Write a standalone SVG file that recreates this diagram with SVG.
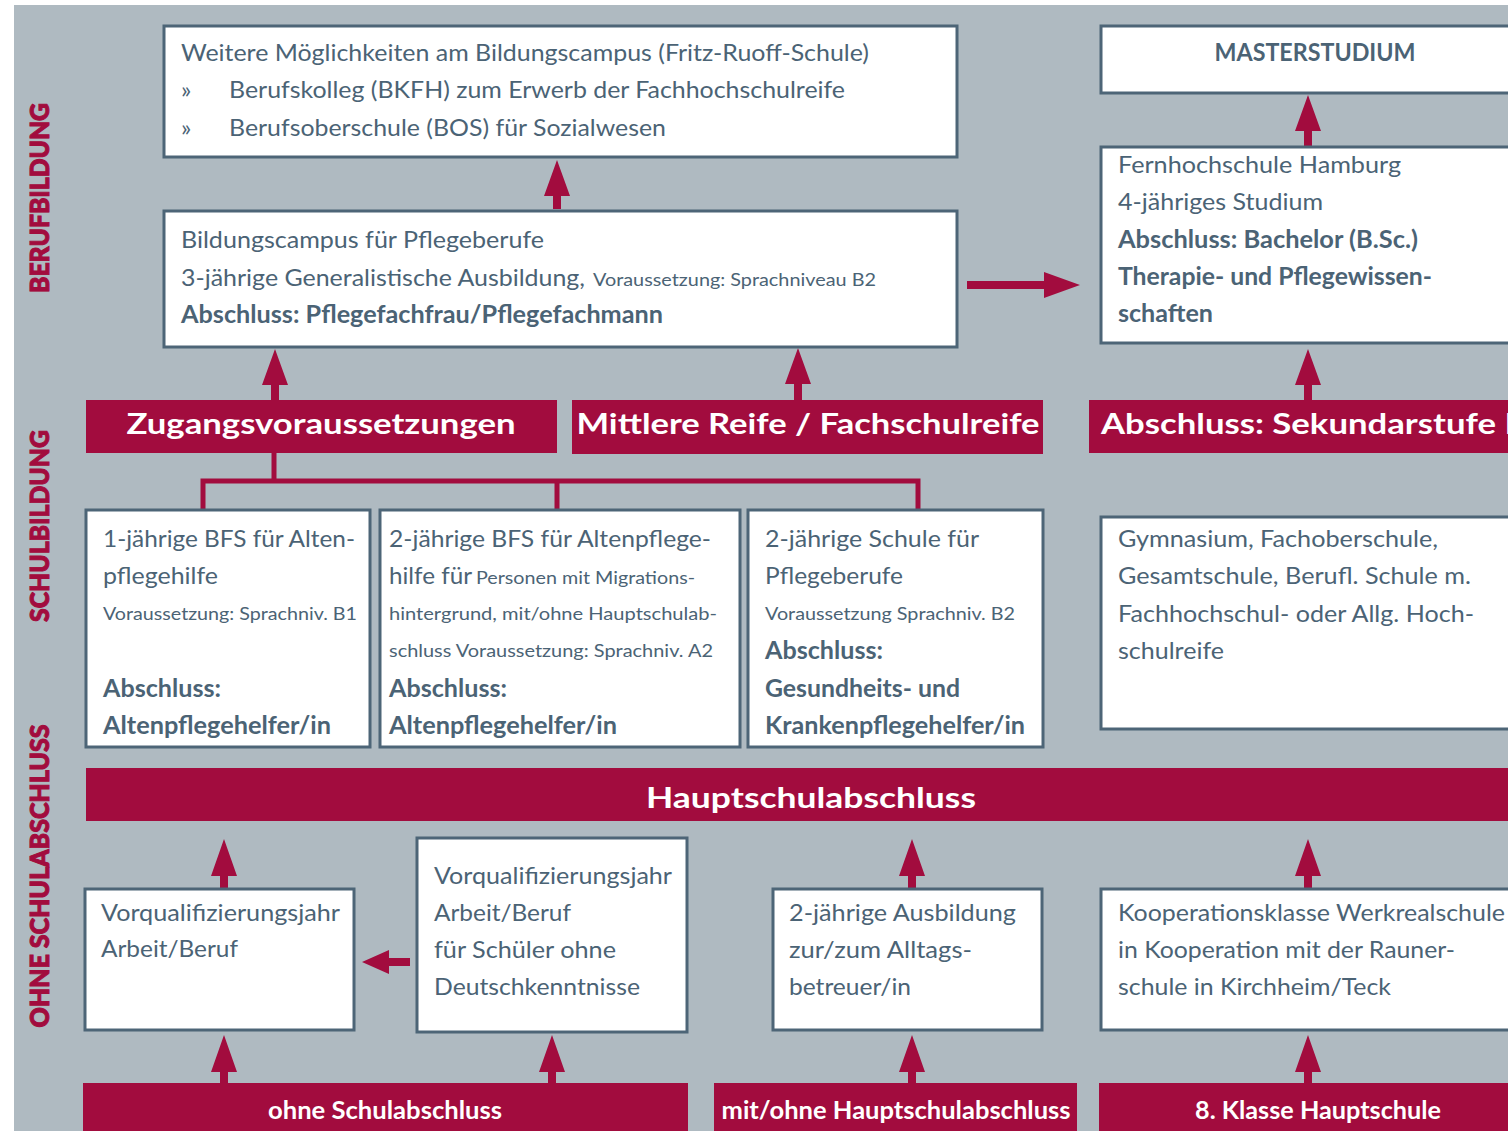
<svg xmlns="http://www.w3.org/2000/svg" width="1508" height="1131" viewBox="0 0 1508 1131">
<style>
.bg{fill:#afbac1}
.box{fill:#fff;stroke:#4d6577;stroke-width:3}
.bar{fill:#a20c3e}
.t{font-family:Lato,"Open Sans","Liberation Sans",sans-serif;font-size:24px;fill:#4b6375}
.s{font-size:18px}
.b{font-weight:700}
.w{font-family:Lato,"Open Sans","Liberation Sans",sans-serif;fill:#fff;font-weight:700}
.side{font-family:Lato,"Open Sans","Liberation Sans",sans-serif;fill:#a20c3e;stroke:#a20c3e;stroke-width:1;font-weight:900;font-size:26px}
.arr{fill:#a20c3e}
.ln{fill:none;stroke:#a20c3e;stroke-width:5}
</style>
<rect x="0" y="0" width="1508" height="1131" fill="#fff"/>
<rect class="bg" x="14" y="5" width="1494" height="1126"/>

<g id="side-labels">
<text class="side" transform="translate(49,198) rotate(-90)" text-anchor="middle" textLength="190" lengthAdjust="spacingAndGlyphs">BERUFBILDUNG</text>
<text class="side" transform="translate(49,526) rotate(-90)" text-anchor="middle" textLength="192" lengthAdjust="spacingAndGlyphs">SCHULBILDUNG</text>
<text class="side" transform="translate(49,876) rotate(-90)" text-anchor="middle" textLength="303" lengthAdjust="spacingAndGlyphs">OHNE SCHULABSCHLUSS</text>
</g>

<g id="connectors">
<path class="arr" d="M557 160 L570 196 L561 196 L561 209 L553 209 L553 196 L544 196 Z"/>
<path class="arr" d="M275 349 L288 385 L279 385 L279 400 L271 400 L271 385 L262 385 Z"/>
<path class="arr" d="M798 348 L811 384 L802 384 L802 400 L794 400 L794 384 L785 384 Z"/>
<path class="arr" d="M1308 95 L1321 131 L1312 131 L1312 146 L1304 146 L1304 131 L1295 131 Z"/>
<path class="arr" d="M1308 349 L1321 385 L1312 385 L1312 400 L1304 400 L1304 385 L1295 385 Z"/>
<path class="arr" d="M224 839 L237 876 L228 876 L228 889 L220 889 L220 876 L211 876 Z"/>
<path class="arr" d="M912 839 L925 876 L916 876 L916 889 L908 889 L908 876 L899 876 Z"/>
<path class="arr" d="M1308 839 L1321 876 L1312 876 L1312 889 L1304 889 L1304 876 L1295 876 Z"/>
<path class="arr" d="M224 1035 L237 1072 L228 1072 L228 1083 L220 1083 L220 1072 L211 1072 Z"/>
<path class="arr" d="M552 1035 L565 1072 L556 1072 L556 1083 L548 1083 L548 1072 L539 1072 Z"/>
<path class="arr" d="M912 1035 L925 1072 L916 1072 L916 1083 L908 1083 L908 1072 L899 1072 Z"/>
<path class="arr" d="M1308 1035 L1321 1072 L1312 1072 L1312 1083 L1304 1083 L1304 1072 L1295 1072 Z"/>
<path class="arr" d="M1080 285 L1044 272 L1044 281 L967 281 L967 289 L1044 289 L1044 298 Z"/>
<path class="arr" d="M362 962 L389 950 L389 958 L410 958 L410 966 L389 966 L389 974 Z"/>
<path class="ln" d="M274 453 V481 M203 510 V481 H918 V510 M557 481 V510"/>
</g>

<g id="weitere">
<rect class="box" x="164" y="26" width="793" height="131"/>
<text class="t" x="181" y="61" textLength="688" lengthAdjust="spacingAndGlyphs">Weitere Möglichkeiten am Bildungscampus (Fritz-Ruoff-Schule)</text>
<text class="t" x="181" y="98">»</text>
<text class="t" x="229" y="98" textLength="616" lengthAdjust="spacingAndGlyphs">Berufskolleg (BKFH) zum Erwerb der Fachhochschulreife</text>
<text class="t" x="181" y="136">»</text>
<text class="t" x="229" y="136" textLength="437" lengthAdjust="spacingAndGlyphs">Berufsoberschule (BOS) für Sozialwesen</text>
</g>

<g id="master">
<rect class="box" x="1101" y="26" width="420" height="67"/>
<text class="t b" x="1315" y="61" text-anchor="middle" textLength="201" lengthAdjust="spacingAndGlyphs">MASTERSTUDIUM</text>
</g>

<g id="bildungscampus">
<rect class="box" x="164" y="211" width="793" height="136"/>
<text class="t" x="181" y="248" textLength="363" lengthAdjust="spacingAndGlyphs">Bildungscampus für Pflegeberufe</text>
<text class="t" x="181" y="286" textLength="404" lengthAdjust="spacingAndGlyphs">3-jährige Generalistische Ausbildung,</text>
<text class="t s" x="593" y="286" textLength="283" lengthAdjust="spacingAndGlyphs">Voraussetzung: Sprachniveau B2</text>
<text class="t b" x="181" y="323" textLength="482" lengthAdjust="spacingAndGlyphs">Abschluss: Pflegefachfrau/Pflegefachmann</text>
</g>

<g id="fernhochschule">
<rect class="box" x="1101" y="147" width="420" height="196"/>
<text class="t" x="1118" y="173" textLength="283" lengthAdjust="spacingAndGlyphs">Fernhochschule Hamburg</text>
<text class="t" x="1118" y="210" textLength="205" lengthAdjust="spacingAndGlyphs">4-jähriges Studium</text>
<text class="t b" x="1118" y="248" textLength="300" lengthAdjust="spacingAndGlyphs">Abschluss: Bachelor (B.Sc.)</text>
<text class="t b" x="1118" y="285" textLength="314" lengthAdjust="spacingAndGlyphs">Therapie- und Pflegewissen-</text>
<text class="t b" x="1118" y="322" textLength="95" lengthAdjust="spacingAndGlyphs">schaften</text>
</g>

<g id="zugang">
<rect class="bar" x="86" y="400" width="471" height="53"/>
<text class="w" x="321" y="434" font-size="29" text-anchor="middle" textLength="389" lengthAdjust="spacingAndGlyphs">Zugangsvoraussetzungen</text>
</g>
<g id="mittlere">
<rect class="bar" x="572" y="400" width="471" height="54"/>
<text class="w" x="808" y="434" font-size="29" text-anchor="middle" textLength="463" lengthAdjust="spacingAndGlyphs">Mittlere Reife / Fachschulreife</text>
</g>
<g id="sekundar">
<rect class="bar" x="1089" y="400" width="430" height="53"/>
<text class="w" x="1101" y="434" font-size="29" textLength="424" lengthAdjust="spacingAndGlyphs">Abschluss: Sekundarstufe II</text>
</g>

<g id="bfs1">
<rect class="box" x="86" y="510" width="284" height="237"/>
<text class="t" x="103" y="547" textLength="252" lengthAdjust="spacingAndGlyphs">1-jährige BFS für Alten-</text>
<text class="t" x="103" y="584" textLength="115" lengthAdjust="spacingAndGlyphs">pflegehilfe</text>
<text class="t s" x="103" y="620" textLength="254" lengthAdjust="spacingAndGlyphs">Voraussetzung: Sprachniv. B1</text>
<text class="t b" x="103" y="697" textLength="118" lengthAdjust="spacingAndGlyphs">Abschluss:</text>
<text class="t b" x="103" y="734" textLength="228" lengthAdjust="spacingAndGlyphs">Altenpflegehelfer/in</text>
</g>

<g id="bfs2">
<rect class="box" x="380" y="510" width="360" height="237"/>
<text class="t" x="389" y="547" textLength="322" lengthAdjust="spacingAndGlyphs">2-jährige BFS für Altenpflege-</text>
<text class="t" x="389" y="584" textLength="83" lengthAdjust="spacingAndGlyphs">hilfe für</text>
<text class="t s" x="476" y="584" textLength="219" lengthAdjust="spacingAndGlyphs">Personen mit Migrations-</text>
<text class="t s" x="389" y="620" textLength="328" lengthAdjust="spacingAndGlyphs">hintergrund, mit/ohne Hauptschulab-</text>
<text class="t s" x="389" y="657" textLength="324" lengthAdjust="spacingAndGlyphs">schluss Voraussetzung: Sprachniv. A2</text>
<text class="t b" x="389" y="697" textLength="118" lengthAdjust="spacingAndGlyphs">Abschluss:</text>
<text class="t b" x="389" y="734" textLength="228" lengthAdjust="spacingAndGlyphs">Altenpflegehelfer/in</text>
</g>

<g id="schule-pflege">
<rect class="box" x="748" y="510" width="295" height="237"/>
<text class="t" x="765" y="547" textLength="214" lengthAdjust="spacingAndGlyphs">2-jährige Schule für</text>
<text class="t" x="765" y="584" textLength="138" lengthAdjust="spacingAndGlyphs">Pflegeberufe</text>
<text class="t s" x="765" y="620" textLength="250" lengthAdjust="spacingAndGlyphs">Voraussetzung Sprachniv. B2</text>
<text class="t b" x="765" y="659" textLength="118" lengthAdjust="spacingAndGlyphs">Abschluss:</text>
<text class="t b" x="765" y="697" textLength="195" lengthAdjust="spacingAndGlyphs">Gesundheits- und</text>
<text class="t b" x="765" y="734" textLength="260" lengthAdjust="spacingAndGlyphs">Krankenpflegehelfer/in</text>
</g>

<g id="gymnasium">
<rect class="box" x="1101" y="517" width="420" height="212"/>
<text class="t" x="1118" y="547" textLength="320" lengthAdjust="spacingAndGlyphs">Gymnasium, Fachoberschule,</text>
<text class="t" x="1118" y="584" textLength="353" lengthAdjust="spacingAndGlyphs">Gesamtschule, Berufl. Schule m.</text>
<text class="t" x="1118" y="622" textLength="356" lengthAdjust="spacingAndGlyphs">Fachhochschul- oder Allg. Hoch-</text>
<text class="t" x="1118" y="659" textLength="106" lengthAdjust="spacingAndGlyphs">schulreife</text>
</g>

<g id="hauptschulabschluss">
<rect class="bar" x="86" y="768" width="1430" height="53"/>
<text class="w" x="811" y="808" font-size="29" text-anchor="middle" textLength="330" lengthAdjust="spacingAndGlyphs">Hauptschulabschluss</text>
</g>

<g id="vorqual1">
<rect class="box" x="85" y="889" width="269" height="141"/>
<text class="t" x="101" y="921" textLength="239" lengthAdjust="spacingAndGlyphs">Vorqualifizierungsjahr</text>
<text class="t" x="101" y="957" textLength="137" lengthAdjust="spacingAndGlyphs">Arbeit/Beruf</text>
</g>

<g id="vorqual2">
<rect class="box" x="417" y="838" width="270" height="194"/>
<text class="t" x="434" y="884" textLength="238" lengthAdjust="spacingAndGlyphs">Vorqualifizierungsjahr</text>
<text class="t" x="434" y="921" textLength="137" lengthAdjust="spacingAndGlyphs">Arbeit/Beruf</text>
<text class="t" x="434" y="958" textLength="182" lengthAdjust="spacingAndGlyphs">für Schüler ohne</text>
<text class="t" x="434" y="995" textLength="206" lengthAdjust="spacingAndGlyphs">Deutschkenntnisse</text>
</g>

<g id="alltagsbetreuer">
<rect class="box" x="773" y="889" width="269" height="141"/>
<text class="t" x="789" y="921" textLength="227" lengthAdjust="spacingAndGlyphs">2-jährige Ausbildung</text>
<text class="t" x="789" y="958" textLength="183" lengthAdjust="spacingAndGlyphs">zur/zum Alltags-</text>
<text class="t" x="789" y="995" textLength="122" lengthAdjust="spacingAndGlyphs">betreuer/in</text>
</g>

<g id="kooperation">
<rect class="box" x="1101" y="889" width="420" height="141"/>
<text class="t" x="1118" y="921" textLength="387" lengthAdjust="spacingAndGlyphs">Kooperationsklasse Werkrealschule</text>
<text class="t" x="1118" y="958" textLength="337" lengthAdjust="spacingAndGlyphs">in Kooperation mit der Rauner-</text>
<text class="t" x="1118" y="995" textLength="273" lengthAdjust="spacingAndGlyphs">schule in Kirchheim/Teck</text>
</g>

<g id="ohne">
<rect class="bar" x="83" y="1083" width="605" height="48"/>
<text class="w" x="385" y="1119" font-size="24" text-anchor="middle" textLength="234" lengthAdjust="spacingAndGlyphs">ohne Schulabschluss</text>
</g>
<g id="mitohne">
<rect class="bar" x="714" y="1083" width="363" height="48"/>
<text class="w" x="896" y="1119" font-size="24" text-anchor="middle" textLength="349" lengthAdjust="spacingAndGlyphs">mit/ohne Hauptschulabschluss</text>
</g>
<g id="klasse8">
<rect class="bar" x="1099" y="1083" width="420" height="48"/>
<text class="w" x="1318" y="1119" font-size="24" text-anchor="middle" textLength="246" lengthAdjust="spacingAndGlyphs">8. Klasse Hauptschule</text>
</g>
</svg>
